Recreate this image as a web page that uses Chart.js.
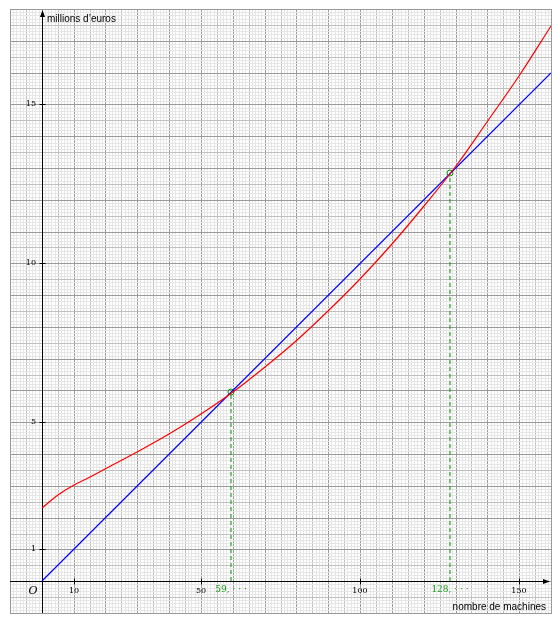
<!DOCTYPE html>
<html>
<head>
<meta charset="utf-8">
<script src="https://cdn.jsdelivr.net/npm/chart.js@4"></script>
<style>
  html, body { margin: 0; padding: 0; background: #fff; }
  #wrap { width: 559px; height: 626px; }
</style>
</head>
<body>
<div id="wrap"><canvas id="graphe" width="559" height="626"></canvas></div>
<script>
// courbe rouge
const redX = [0, 5, 10, 15, 20, 30, 40, 50, 60, 70, 80, 90, 100, 110, 120, 130, 140, 150, 160];
const redY = [2.3, 2.72, 3.02, 3.28, 3.54, 4.05, 4.62, 5.26, 5.96, 6.73, 7.57, 8.49, 9.5, 10.6, 11.79, 13.07, 14.44, 15.9, 17.45];

// droite bleue
const blueX = [0, 160];
const blueY = [0, 16];

// points d'intersection
const interX = [59.5, 128.3];
const interY = [5.95, 12.83];
const interLabels = ["59, · · ·", "128, · · ·"];

// graduations
const xTicks = [10, 50, 100, 150];
const yTicks = [1, 5, 10, 15];

const xMin = -10, xMax = 160;
const yMin = -1, yMax = 18;

function points(xs, ys) {
    return xs.map((x, i) => ({ x: x, y: ys[i] }));
}

function couleurGrille(n) {
    if (n % 10 === 0) return "#9a9a9a";
    if (n % 5 === 0) return "#c0c0c0";
    return "#e6e6e6";
}

const datasets = [
    {
        data: points(redX, redY),
        borderColor: "#ff0000",
        borderWidth: 1.2,
        showLine: true,
        pointRadius: 0,
        tension: 0.35
    },
    {
        data: points(blueX, blueY),
        borderColor: "#0000ff",
        borderWidth: 1.2,
        showLine: true,
        pointRadius: 0
    }
];

interX.forEach((x, i) => {
    datasets.push({
        data: [{ x: x, y: 0 }, { x: x, y: interY[i] }],
        borderColor: "#009900",
        borderWidth: 1,
        borderDash: [4, 3],
        showLine: true,
        pointRadius: 0
    });
});

datasets.push({
    data: points(interX, interY),
    showLine: false,
    pointRadius: 3,
    pointBorderWidth: 1,
    pointBorderColor: "#009900",
    pointBackgroundColor: "rgba(0,0,0,0)"
});

const axes = {
    id: "axes",
    beforeDatasetsDraw(chart) {
        const ctx = chart.ctx;
        const sx = chart.scales.x, sy = chart.scales.y;
        const x0 = Math.round(sx.getPixelForValue(0)) + 0.5;
        const y0 = Math.round(sy.getPixelForValue(0)) + 0.5;
        const a = chart.chartArea;

        ctx.save();
        ctx.strokeStyle = "#000";
        ctx.fillStyle = "#000";
        ctx.lineWidth = 1;
        ctx.beginPath();
        ctx.moveTo(a.left, y0);
        ctx.lineTo(a.right - 2, y0);
        ctx.moveTo(x0, a.bottom);
        ctx.lineTo(x0, a.top + 2);
        xTicks.forEach(v => {
            const px = Math.round(sx.getPixelForValue(v)) + 0.5;
            ctx.moveTo(px, y0 - 3);
            ctx.lineTo(px, y0 + 3);
        });
        yTicks.forEach(v => {
            const py = Math.round(sy.getPixelForValue(v)) + 0.5;
            ctx.moveTo(x0 - 3, py);
            ctx.lineTo(x0 + 3, py);
        });
        ctx.stroke();

        // fleches
        ctx.beginPath();
        ctx.moveTo(a.right - 1, y0);
        ctx.lineTo(a.right - 8, y0 - 2.5);
        ctx.lineTo(a.right - 8, y0 + 2.5);
        ctx.closePath();
        ctx.moveTo(x0, a.top + 1);
        ctx.lineTo(x0 - 2.5, a.top + 8);
        ctx.lineTo(x0 + 2.5, a.top + 8);
        ctx.closePath();
        ctx.fill();
        ctx.restore();
    },
    afterDraw(chart) {
        const ctx = chart.ctx;
        const sx = chart.scales.x, sy = chart.scales.y;
        const x0 = sx.getPixelForValue(0);
        const y0 = sy.getPixelForValue(0);
        const a = chart.chartArea;

        ctx.save();
        ctx.fillStyle = "#000";
        ctx.font = "8px 'DejaVu Serif'";
        ctx.textBaseline = "middle";
        ctx.textAlign = "center";
        xTicks.forEach(v => {
            ctx.fillText(String(v), sx.getPixelForValue(v), y0 + 10);
        });
        ctx.textAlign = "right";
        yTicks.forEach(v => {
            ctx.fillText(String(v), x0 - 6, sy.getPixelForValue(v));
        });

        ctx.fillStyle = "#1e9a1e";
        ctx.font = "9px 'DejaVu Serif'";
        ctx.textAlign = "center";
        interX.forEach((x, i) => {
            ctx.fillText(interLabels[i], sx.getPixelForValue(x), y0 + 9);
        });

        ctx.fillStyle = "#000";
        ctx.font = "italic 11px 'DejaVu Serif'";
        ctx.textAlign = "center";
        ctx.fillText("O", x0 - 9, y0 + 10);

        ctx.font = "10px 'Liberation Sans'";
        ctx.textAlign = "left";
        ctx.fillText("millions d’euros", x0 + 5, a.top + 10);
        ctx.textAlign = "right";
        ctx.fillText("nombre de machines", a.right - 5, y0 + 26);
        ctx.restore();
    }
};

new Chart(document.getElementById("graphe"), {
    type: "scatter",
    data: { datasets: datasets },
    options: {
        responsive: false,
        animation: false,
        events: [],
        layout: { padding: { left: 10, right: 8, top: 9, bottom: 13 } },
        plugins: { legend: { display: false }, tooltip: { enabled: false } },
        scales: {
            x: {
                type: "linear",
                min: xMin,
                max: xMax,
                alignToPixels: true,
                ticks: { display: false, stepSize: 1, maxTicksLimit: 1000 },
                border: { display: true, color: "#9a9a9a" },
                grid: {
                    drawTicks: false,
                    lineWidth: 1,
                    color: c => couleurGrille(Math.round(c.tick.value))
                }
            },
            y: {
                type: "linear",
                min: yMin,
                max: yMax,
                alignToPixels: true,
                ticks: { display: false, stepSize: 0.1, maxTicksLimit: 1000 },
                border: { display: true, color: "#9a9a9a" },
                grid: {
                    drawTicks: false,
                    lineWidth: 1,
                    color: c => couleurGrille(Math.round(c.tick.value * 10))
                }
            }
        }
    },
    plugins: [axes]
});
</script>
</body>
</html>
